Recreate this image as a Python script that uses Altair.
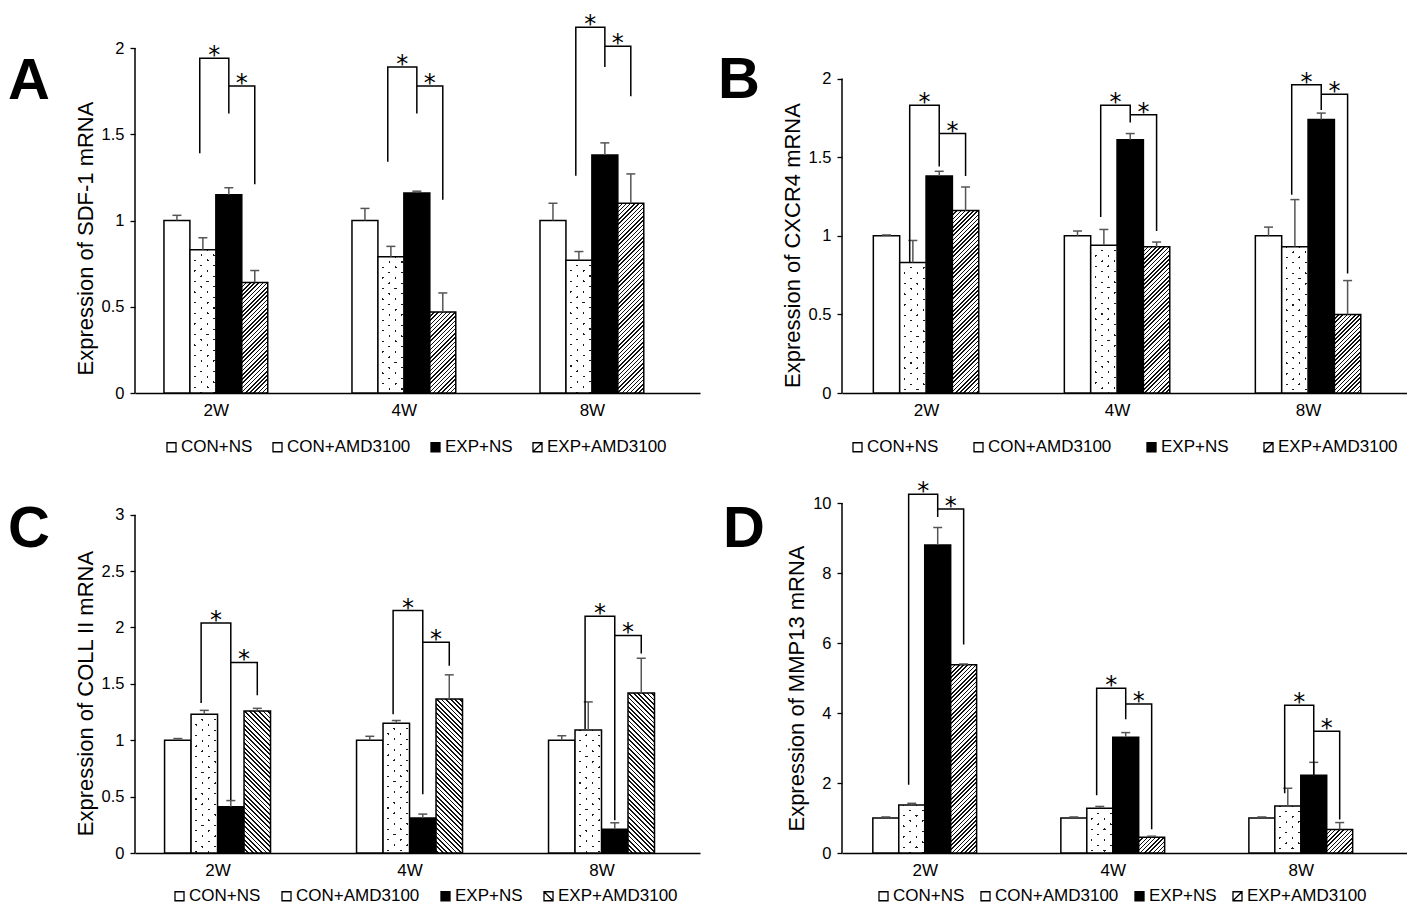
import math
import altair as alt
import pandas as pd

# ---------------- data ----------------
weeks = ["2W", "4W", "8W"]
groups = ["CON+NS", "CON+AMD3100", "EXP+NS", "EXP+AMD3100"]

# rows follow `groups`, columns follow `weeks`
sdf1_mean = [[1.00, 1.00, 1.00], [0.83, 0.79, 0.77], [1.15, 1.16, 1.38], [0.64, 0.47, 1.10]]
sdf1_sd = [[0.03, 0.07, 0.10], [0.07, 0.06, 0.05], [0.04, 0.01, 0.07], [0.07, 0.11, 0.17]]
sdf1_ticks = [0, 0.5, 1, 1.5, 2]
# brackets: first-leg bottom, first top, middle-leg bottom, second top, last-leg bottom
sdf1_brackets = [[1.39, 1.34, 1.26], [1.94, 1.89, 2.12], [1.62, 1.62, 1.89], [1.78, 1.78, 2.01], [1.21, 1.12, 1.72]]

cxcr4_mean = [[1.00, 1.00, 1.00], [0.83, 0.94, 0.93], [1.38, 1.61, 1.74], [1.16, 0.93, 0.50]]
cxcr4_sd = [[0.005, 0.03, 0.055], [0.14, 0.10, 0.30], [0.03, 0.04, 0.04], [0.15, 0.03, 0.215]]
cxcr4_ticks = [0, 0.5, 1, 1.5, 2]
cxcr4_brackets = [[0.83, 1.12, 1.26], [1.83, 1.83, 1.96], [1.44, 1.72, 1.80], [1.65, 1.77, 1.90], [1.38, 1.03, 0.76]]

coll2_mean = [[1.00, 1.00, 1.00], [1.23, 1.15, 1.09], [0.41, 0.31, 0.21], [1.26, 1.365, 1.42]]
coll2_sd = [[0.015, 0.035, 0.04], [0.035, 0.025, 0.25], [0.055, 0.035, 0.058], [0.023, 0.215, 0.307]]
coll2_ticks = [0, 0.5, 1, 1.5, 2, 2.5, 3]
coll2_brackets = [[1.33, 1.23, 1.10], [2.04, 2.15, 2.10], [0.47, 0.52, 0.29], [1.69, 1.87, 1.93], [1.40, 1.66, 1.77]]

mmp13_mean = [[1.00, 1.00, 1.00], [1.37, 1.28, 1.34], [8.80, 3.31, 2.22], [5.38, 0.45, 0.67]]
mmp13_sd = [[0.03, 0.03, 0.03], [0.05, 0.05, 0.51], [0.50, 0.13, 0.37], [0.02, 0.03, 0.20]]
mmp13_ticks = [0, 2, 4, 6, 8, 10]
mmp13_brackets = [[1.95, 1.65, 1.71], [10.25, 4.71, 4.22], [9.60, 3.82, 2.23], [9.83, 4.26, 3.48], [5.96, 0.68, 0.96]]

# ---------------- styling ----------------
FONT = "Liberation Sans"
BW = 0.138          # bar width in category units
PW = 565            # plot width of every panel


def stripes(w, h, cx, cy, period, thick, line_col, bg_col, phase=0.0):
    """Linear gradient that draws parallel lines cx*X + cy*Y = const inside a w x h box."""
    corners = [(0.0, 0.0), (1.0, 0.0), (0.0, 1.0), (1.0, 1.0)]
    fv = [cx * u * w + cy * v * h for u, v in corners]
    f0, f1 = min(fv), max(fv)
    u0, v0 = corners[fv.index(f0)]
    k = (f1 - f0) / (cx * cx * w * w + cy * cy * h * h)
    a, b = k * cx * w, k * cy * h
    span = f1 - f0
    stops = [{"offset": 0, "color": bg_col}]
    c = math.floor((f0 - phase) / period) * period + phase
    while c - thick / 2 <= f1:
        lo = min(max((c - thick / 2 - f0) / span, 0.0), 1.0)
        hi = min(max((c + thick / 2 - f0) / span, 0.0), 1.0)
        if hi > lo:
            lo, hi = round(lo, 5), round(hi, 5)
            stops += [{"offset": lo, "color": bg_col}, {"offset": lo, "color": line_col},
                      {"offset": hi, "color": line_col}, {"offset": hi, "color": bg_col}]
        c += period
    stops.append({"offset": 1, "color": bg_col})
    return {"gradient": "linear", "x1": round(u0, 5), "y1": round(v0, 5),
            "x2": round(u0 + a, 5), "y2": round(v0 + b, 5), "stops": stops}


def bar_table(mean, sd):
    rows = []
    for si, g in enumerate(groups):
        for wi, w in enumerate(weeks):
            rows.append({"week": w, "wi": wi, "series": g, "si": si,
                         "value": mean[si][wi], "top": mean[si][wi] + sd[si][wi], "base": 0.0})
    return pd.DataFrame(rows)


def bracket_tables(b):
    low1, top1, mid1, top2, low2 = b
    rows, stars = [], []
    for wi in range(len(weeks)):
        xl = wi + (1 - 1.5 - 0.12) * BW
        xm = wi + (2 - 1.5) * BW
        xr = wi + (3 - 1.5) * BW
        for o, (x, y) in enumerate([(xl, low1[wi]), (xl, top1[wi]), (xm, top1[wi]), (xm, mid1[wi])]):
            rows.append({"bid": f"{wi}a", "o": o, "bx": x, "by": y})
        for o, (x, y) in enumerate([(xm, top2[wi]), (xr, top2[wi]), (xr, low2[wi])]):
            rows.append({"bid": f"{wi}b", "o": o, "bx": x, "by": y})
        stars.append({"sx": (xl + xm) / 2, "sy": top1[wi]})
        stars.append({"sx": (xm + xr) / 2, "sy": top2[wi]})
    return pd.DataFrame(rows), pd.DataFrame(stars)


def panel(letter, title, mean, sd, brackets, yticks, ytop, xdom, height,
          hatch_cy, hatch_period, hatch_thick, leg_x, leg_y, leg_pad, letter_x, letter_y, title_y):
    df = bar_table(mean, sd)
    bdf, sdf = bracket_tables(brackets)
    px_x = PW / (xdom[1] - xdom[0])
    px_y = height / ytop
    wpx = BW * px_x

    xsc = alt.Scale(domain=xdom, nice=False, zero=False)
    ysc = alt.Scale(domain=[0, ytop], nice=False, zero=False)
    label_expr = "[" + ",".join(f"'{w}'" for w in weeks) + "][datum.value]"
    xaxis = alt.Axis(values=list(range(len(weeks))), labelExpr=label_expr, title=None, ticks=False,
                     grid=False, domain=True, domainColor="black", domainWidth=1.5,
                     labelFont=FONT, labelFontSize=17, labelColor="black", labelPadding=9)
    yaxis = alt.Axis(values=yticks, format="~r", title=title, titleFont=FONT, titleFontSize=22,
                     titleFontWeight="normal", titleColor="black", titlePadding=4, titleY=title_y,
                     labelFont=FONT, labelFontSize=16.5, labelColor="black", labelPadding=6,
                     tickSize=5, tickColor="black", tickWidth=1.3, domain=False, grid=False)

    def X(f):
        return alt.X(f, type="quantitative", scale=xsc, axis=xaxis)

    def Y(f):
        return alt.Y(f, type="quantitative", scale=ysc, axis=yaxis)

    cap = 4.5 / px_x
    base = alt.Chart(df).transform_calculate(
        center=f"datum.wi + (datum.si - 1.5) * {BW}",
        x0=f"datum.wi + (datum.si - 2) * {BW}",
        x1=f"datum.wi + (datum.si - 1) * {BW}",
        c0=f"datum.wi + (datum.si - 1.5) * {BW} - {cap}",
        c1=f"datum.wi + (datum.si - 1.5) * {BW} + {cap}",
    )

    sq = "M-1,-1H1V1H-1Z"
    hatch_sym = sq + (" M-1,1L1,-1" if hatch_cy > 0 else " M-1,-1L1,1")
    leg = alt.Legend(orient="none", legendX=leg_x, legendY=leg_y, direction="horizontal", title=None,
                     labelFont=FONT, labelFontSize=17, labelColor="black", symbolSize=81,
                     symbolStrokeWidth=1.3, symbolOpacity=1,
                     columnPadding=leg_pad, labelOffset=1, padding=0)
    layers = [
        base.mark_point(filled=True, opacity=0, size=1, strokeWidth=1.3).encode(
            x=X("center"), y=Y("value"),
            fill=alt.Fill("series:N", scale=alt.Scale(domain=groups, range=["white", "white", "black", "white"]), legend=leg),
            stroke=alt.Stroke("series:N", scale=alt.Scale(domain=groups, range=["black", "black", "black", "black"]), legend=leg),
            shape=alt.Shape("series:N", scale=alt.Scale(domain=groups, range=[sq, sq, sq, hatch_sym]), legend=leg),
        ),
        base.transform_filter(alt.datum.series == groups[0]).mark_rect(
            fill="white", stroke="black", strokeWidth=1.5).encode(
            x=X("x0"), x2="x1:Q", y=Y("value"), y2="base:Q"),
        base.transform_filter(alt.datum.series == groups[2]).mark_rect(
            fill="black", stroke="black", strokeWidth=1.5).encode(
            x=X("x0"), x2="x1:Q", y=Y("value"), y2="base:Q"),
    ]
    for wi, w in enumerate(weeks):
        # dotted bars (CON+AMD3100)
        hpx = mean[1][wi] * px_y
        dots_a = stripes(wpx, hpx, 1, 1.2, 12.7, 2.4, "#1a1a1a", "white", 5)
        dots_b = stripes(wpx, hpx, 1, -1.2, 12.7, 2.4, "rgba(255,255,255,0)", "white", 5)
        sel = (alt.datum.series == groups[1]) & (alt.datum.week == w)
        layers.append(base.transform_filter(sel).mark_rect(fill=dots_a).encode(
            x=X("x0"), x2="x1:Q", y=Y("value"), y2="base:Q"))
        layers.append(base.transform_filter(sel).mark_rect(fill=dots_b, stroke="black", strokeWidth=1.5).encode(
            x=X("x0"), x2="x1:Q", y=Y("value"), y2="base:Q"))
        # hatched bars (EXP+AMD3100)
        hpx = mean[3][wi] * px_y
        hat = stripes(wpx, hpx, 1, hatch_cy, hatch_period, hatch_thick, "#111111", "white", 0.5)
        sel = (alt.datum.series == groups[3]) & (alt.datum.week == w)
        layers.append(base.transform_filter(sel).mark_rect(fill=hat, stroke="black", strokeWidth=1.5).encode(
            x=X("x0"), x2="x1:Q", y=Y("value"), y2="base:Q"))

    layers += [
        base.mark_rule(color="#555555", strokeWidth=1.5).encode(x=X("center"), y=Y("value"), y2="top:Q"),
        base.mark_rule(color="#555555", strokeWidth=1.5).encode(x=X("c0"), x2="c1:Q", y=Y("top")),
        alt.Chart(bdf).mark_line(color="black", strokeWidth=1.5).encode(
            x=X("bx"), y=Y("by"), detail="bid:N", order="o:Q"),
        alt.Chart(sdf).mark_text(text="*", font="DejaVu Sans", fontSize=24, baseline="alphabetic",
                                 dy=5, color="black").encode(x=X("sx"), y=Y("sy")),
        alt.Chart(pd.DataFrame({"r0": [0.0], "r1": [float(yticks[-1])]})).mark_rule(
            color="black", strokeWidth=1.5).encode(x=alt.value(0), y=Y("r0"), y2="r1:Q"),
        alt.Chart(pd.DataFrame({"t": [letter]})).mark_text(
            font=FONT, fontSize=58, fontWeight="bold", align="left", baseline="top", color="black").encode(
            text="t:N", x=alt.value(letter_x), y=alt.value(letter_y)),
    ]
    return alt.layer(*layers).properties(width=PW, height=height)


H1, H2 = 345, 350
pA = panel("A", "Expression of SDF-1 mRNA", sdf1_mean, sdf1_sd, sdf1_brackets, sdf1_ticks, 2.0,
           [-0.43, 2.575], H1, 1, 4.2, 1.5, 28, H1 + 45.5, 16, -127, 4.7, 190)
pB = panel("B", "Expression of CXCR4 mRNA", cxcr4_mean, cxcr4_sd, cxcr4_brackets, cxcr4_ticks, 2.194,
           [-0.44, 2.518], H1, 1, 4.2, 1.5, 7, H1 + 45.5, 31, -124, 4.2, 197)
pC = panel("C", "Expression of COLL II mRNA", coll2_mean, coll2_sd, coll2_brackets, coll2_ticks, 3.104,
           [-0.43, 2.513], H2, -1, 4.6, 1.7, 36, H2 + 34.5, 17, -127, -1.6, 190)
pD = panel("D", "Expression of MMP13 mRNA", mmp13_mean, mmp13_sd, mmp13_brackets, mmp13_ticks, 10.0,
           [-0.44, 2.565], H2, 1, 4.2, 1.5, 33, H2 + 34.5, 12, -119, -2.3, 185)

chart = alt.concat(pA, pB, pC, pD, columns=2, spacing={"row": 110, "column": 142}, bounds="flush").resolve_scale(
    x="independent", y="independent", fill="independent", shape="independent", stroke="independent"
).resolve_legend(fill="independent", shape="independent", stroke="independent").properties(
    padding={"top": 5, "left": 0, "right": 0, "bottom": 0}
).configure_view(stroke=None)

chart.save("out.html", embed_options={"renderer": "svg", "actions": False})
